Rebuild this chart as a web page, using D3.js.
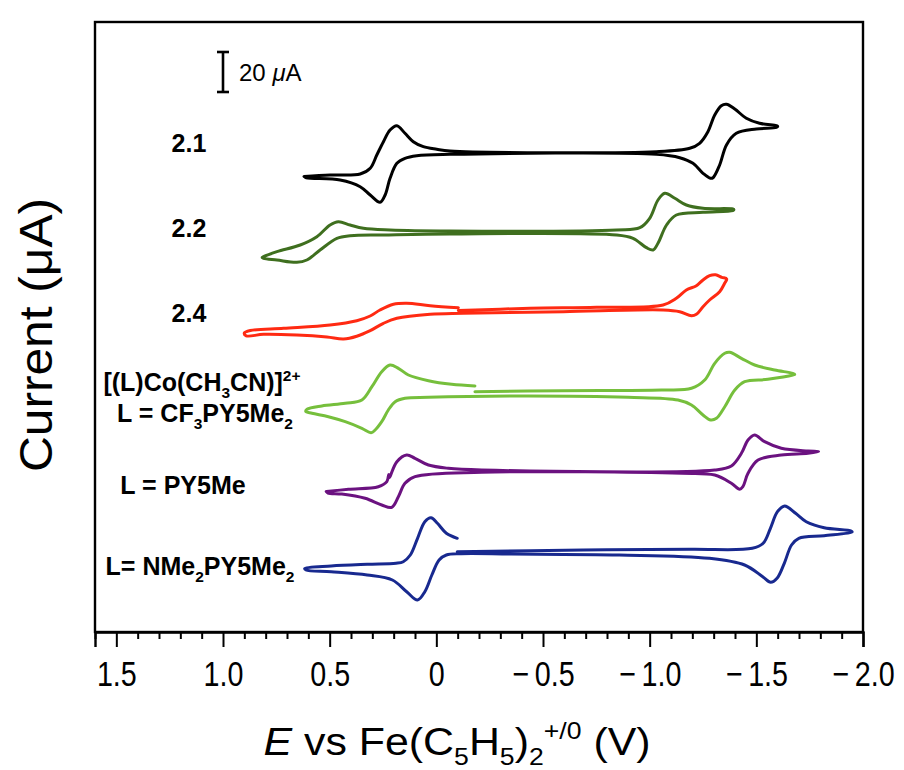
<!DOCTYPE html>
<html>
<head>
<meta charset="utf-8">
<script src="https://cdn.jsdelivr.net/npm/d3@7"></script>
<style>
  body { margin: 0; background: #fff; }
  text { font-family: "Liberation Sans", Arial, Helvetica, sans-serif; }
</style>
</head>
<body>
<div id="chart"></div>
<script>
// x axis ticks (potential, V)
const majorTicks = [1.5, 1.0, 0.5, 0, -0.5, -1.0, -1.5, -2.0];
const majorLabels = ["1.5", "1.0", "0.5", "0", "\u2212\u20090.5", "\u2212\u20091.0", "\u2212\u20091.5", "\u2212\u20092.0"];
const minorTicks = [1.6, 1.4, 1.3, 1.2, 1.1, 0.9, 0.8, 0.7, 0.6, 0.4, 0.3, 0.2, 0.1,
  -0.1, -0.2, -0.3, -0.4, -0.6, -0.7, -0.8, -0.9, -1.1, -1.2, -1.3, -1.4, -1.6, -1.7, -1.8, -1.9];

// vertical offset of each trace (uA) and colours
const seriesNames = ["2.1", "2.2", "2.4", "CF3PY5Me2", "PY5Me", "NMe2PY5Me2"];
const seriesOffsets = [239.75, 199.75, 161, 119.25, 80.25, 39.75];
const seriesColors = ["#000000", "#3f6f1f", "#ff2a12", "#76bf3c", "#6b1280", "#18298f"];

// cyclic voltammograms: [E (V), i (uA)] relative to trace offset
const cv21 = [[0.62, -12], [0.498, -11.25], [0.357, -10.75], [0.31, -7.9], [0.279, -1.25], [0.248, 5.4],
  [0.217, 11.25], [0.185, 13.4], [0.147, 9.6], [0.108, 5.4], [0.061, 2.9], [-0.002, 1.6], [-0.064, 0.75],
  [-1.032, 0.4], [-1.188, 2.1], [-1.234, 4.6], [-1.273, 10.4], [-1.305, 18.75], [-1.336, 23.4], [-1.36, 24.1],
  [-1.399, 21.75], [-1.453, 17.1], [-1.515, 14.6], [-1.594, 13.4], [-1.6, 13.1], [-1.594, 12.5], [-1.5, 11.75],
  [-1.406, 9.6], [-1.36, 3.75], [-1.328, -6.25], [-1.297, -12.6], [-1.285, -12.9], [-1.25, -10.4], [-1.203, -5.4],
  [-1.141, -2.6], [-1.032, -0.9], [-0.064, -0.9], [0.092, -1.6], [0.147, -2.9], [0.185, -5.4], [0.217, -12.9],
  [0.24, -21.25], [0.264, -24.9], [0.31, -21.25], [0.357, -17.1], [0.451, -13.75], [0.61, -12.6], [0.62, -12]];

const cv22 = [[0.816, -12.5], [0.81, -12.1], [0.747, -9.6], [0.638, -6.25], [0.56, -2.1], [0.498, 3.75], [0.459, 5.4],
  [0.404, 3.75], [0.342, 2.1], [0.217, 1.25], [-0.064, 0.75], [-0.845, 1.25], [-0.954, 2.4], [-1.0, 7.1],
  [-1.039, 16.25], [-1.071, 19.6], [-1.118, 17.1], [-1.172, 13.75], [-1.25, 12.1], [-1.39, 11.75], [-1.395, 11.4],
  [-1.39, 11], [-1.25, 10.1], [-1.125, 8.75], [-1.079, 3.75], [-1.039, -5.4], [-1.016, -8.75], [-0.985, -7.6],
  [-0.922, -2.9], [-0.845, -1.25], [-0.064, -0.75], [0.248, -1.25], [0.404, -1.6], [0.466, -2.9], [0.545, -8.75],
  [0.607, -13.75], [0.654, -14.9], [0.747, -13.75], [0.81, -12.9], [0.816, -12.5]];

const cv24 = [[-0.103, -0.25], [-0.439, 0.85], [-0.751, 1.35], [-1.063, 2.5], [-1.125, 5.85], [-1.172, 10],
  [-1.219, 12.15], [-1.25, 15], [-1.281, 17.15], [-1.309, 17.6], [-1.338, 16.35], [-1.361, 15.5], [-1.352, 13.5],
  [-1.328, 9.15], [-1.281, 5], [-1.25, 1.65], [-1.219, -2.15], [-1.196, -2.85], [-1.141, -0.85], [-1.063, 0],
  [-0.595, -0.85], [-0.126, -1.65], [0.029, -2.15], [0.185, -4.15], [0.248, -6.65], [0.31, -10.35], [0.373, -13.15],
  [0.435, -14.5], [0.513, -13.5], [0.654, -12.5], [0.81, -12.15], [0.891, -12.9], [0.9, -11.5], [0.872, -10.25],
  [0.716, -9.15], [0.498, -7.5], [0.373, -5.35], [0.31, -3], [0.264, 0], [0.201, 2.85], [0.139, 3.35],
  [0.029, 2.15], [-0.103, 1.15]];

const cvCF3 = [[-0.181, 0.9], [-0.587, 1.4], [-1.055, 1.75], [-1.196, 2.6], [-1.258, 6.75], [-1.305, 15.1],
  [-1.352, 20.1], [-1.375, 20.6], [-1.43, 17.6], [-1.492, 14.25], [-1.586, 11.75], [-1.671, 10.1], [-1.68, 9.6],
  [-1.671, 9.25], [-1.554, 7.1], [-1.445, 5.9], [-1.399, 1.75], [-1.352, -6.6], [-1.313, -12.4], [-1.286, -13.25],
  [-1.25, -10.75], [-1.196, -5.75], [-1.133, -3.25], [-0.899, -1.9], [-0.431, -1.25], [0.037, -1.9], [0.147, -2.4],
  [0.193, -4.1], [0.225, -8.25], [0.256, -14.1], [0.287, -18.25], [0.306, -19.6], [0.349, -17.4], [0.427, -14.1],
  [0.506, -11.6], [0.583, -9.9], [0.612, -9], [0.606, -7.9], [0.537, -6.25], [0.427, -4.9], [0.349, -3.25],
  [0.302, 3.4], [0.256, 10.9], [0.217, 14.25], [0.178, 12.6], [0.131, 9.25], [0.037, 6.4], [-0.072, 4.6],
  [-0.181, 3.75]];

const cvPY5Me = [[0.516, -10], [0.412, -8.9], [0.272, -7.6], [0.232, -5.1], [0.223, -1.5], [0.219, -3], [0.214, -1.8],
  [0.185, 4.9], [0.139, 8.25], [0.1, 6.6], [0.037, 3.25], [-0.056, 1.6], [-0.213, 0.75], [-1.305, 0.75],
  [-1.383, 2.75], [-1.43, 9.1], [-1.461, 15.75], [-1.492, 18.25], [-1.539, 14.9], [-1.617, 11.6], [-1.742, 10.25],
  [-1.792, 10], [-1.742, 9.1], [-1.617, 8.25], [-1.508, 5.75], [-1.461, -0.9], [-1.437, -7.6], [-1.422, -8.9],
  [-1.383, -5.9], [-1.305, -1.75], [-1.149, -0.9], [-0.213, -0.4], [0.1, -2.6], [0.147, -5.9], [0.178, -12.6],
  [0.209, -17.9], [0.256, -16.75], [0.334, -13.4], [0.443, -11.25], [0.508, -10.75], [0.516, -10]];

const cvNMe2 = [[-0.098, 0.4], [-0.688, 1.25], [-1.194, 1.6], [-1.481, 2.1], [-1.532, 4.6], [-1.566, 12.1],
  [-1.599, 20.4], [-1.633, 23.25], [-1.684, 19.6], [-1.734, 15.4], [-1.818, 12.4], [-1.945, 10.75], [-1.949, 10.25],
  [-1.818, 8.4], [-1.699, 7.1], [-1.665, 3.75], [-1.631, -5.4], [-1.597, -12.9], [-1.567, -14.9], [-1.53, -12.1],
  [-1.445, -6.25], [-1.279, -2.9], [-0.857, -1.25], [-0.351, -0.75], [-0.115, -0.6], [-0.047, -1.25], [-0.013, -3.75],
  [0.021, -11.25], [0.054, -19.6], [0.088, -23.75], [0.139, -19.6], [0.206, -13.75], [0.324, -11.25], [0.493, -9.6],
  [0.611, -8.75], [0.617, -8], [0.493, -6.75], [0.324, -5.9], [0.189, -5.4], [0.155, -4.6], [0.122, -1.25],
  [0.088, 7.1], [0.054, 15.4], [0.025, 17.4], [-0.005, 14.6], [-0.047, 9.6], [-0.098, 7.1]];

const traces = [cv21, cv22, cv24, cvCF3, cvPY5Me, cvNMe2];

// scale bar: 20 uA drawn at E = 1.0 V
const scaleBarE = 1.0;
const scaleBarRange = [270, 290];

const width = 904, height = 770;
const margin = { top: 22, right: 41, bottom: 138, left: 95 };

const svg = d3.select("#chart").append("svg")
  .attr("width", width)
  .attr("height", height);

const x = d3.scaleLinear()
  .domain([1.6, -2.0])
  .range([margin.left, width - margin.right]);

const y = d3.scaleLinear()
  .domain([0, 305])
  .range([height - margin.bottom, margin.top]);

// traces
const line = d3.line()
  .x(d => x(d[0]))
  .curve(d3.curveCatmullRom.alpha(0.5));

traces.forEach((data, i) => {
  svg.append("path")
    .datum(data)
    .attr("fill", "none")
    .attr("stroke", seriesColors[i])
    .attr("stroke-width", 3)
    .attr("stroke-linejoin", "round")
    .attr("stroke-linecap", "round")
    .attr("d", line.y(d => y(seriesOffsets[i] + d[1])));
});

// frame
svg.append("rect")
  .attr("x", margin.left)
  .attr("y", margin.top)
  .attr("width", width - margin.left - margin.right)
  .attr("height", height - margin.top - margin.bottom)
  .attr("fill", "none")
  .attr("stroke", "#000")
  .attr("stroke-width", 2.4);

// bottom axis: minor then major ticks
const axisY = height - margin.bottom;
svg.append("g")
  .attr("transform", `translate(0,${axisY})`)
  .call(d3.axisBottom(x).tickValues(minorTicks).tickSize(7).tickFormat(""))
  .call(g => g.select(".domain").remove())
  .call(g => g.selectAll("line").attr("stroke-width", 2));

svg.append("g")
  .attr("transform", `translate(0,${axisY})`)
  .call(d3.axisBottom(x).tickValues(majorTicks).tickSize(15).tickPadding(14)
    .tickFormat((d, i) => majorLabels[i]))
  .call(g => g.select(".domain").attr("stroke-width", 2.4))
  .call(g => g.selectAll("line").attr("stroke-width", 2))
  .call(g => g.selectAll("text")
    .attr("font-size", 35)
    .attr("fill", "#000")
    .attr("transform", "scale(0.82,1)")
    .style("font-family", "'Liberation Sans', Arial, sans-serif"));

// helper for text with sub/superscripts
function richText(sel, parts, size) {
  let shift = 0;
  parts.forEach(([t, kind]) => {
    const target = kind === "sub" ? size * 0.26 : kind === "sup" ? -size * 0.42 : 0;
    const ts = sel.append("tspan").text(t);
    if (target !== shift) ts.attr("dy", target - shift);
    shift = target;
    if (kind === "sub" || kind === "sup") ts.attr("font-size", size * 0.62);
    if (kind === "i") ts.attr("font-style", "italic");
  });
}

// axis titles
const xTitle = svg.append("text")
  .attr("transform", "translate(457,755) scale(1.1,1)")
  .attr("text-anchor", "middle")
  .attr("font-size", 39);
richText(xTitle, [["E", "i"], [" vs Fe(C", "n"], ["5", "sub"], ["H", "n"], ["5", "sub"], [")", "n"],
  ["2", "sub"], ["+/0", "sup"], [" (V)", "n"]], 39);

svg.append("text")
  .attr("transform", "translate(52,335) rotate(-90) scale(1.08,1)")
  .attr("text-anchor", "middle")
  .attr("font-size", 46)
  .text("Current (\u03bcA)");

// scale bar
const barX = x(scaleBarE);
svg.append("line")
  .attr("x1", barX).attr("x2", barX)
  .attr("y1", y(scaleBarRange[0])).attr("y2", y(scaleBarRange[1]))
  .attr("stroke", "#000").attr("stroke-width", 2.6);
scaleBarRange.forEach(v => {
  svg.append("line")
    .attr("x1", barX - 6).attr("x2", barX + 6)
    .attr("y1", y(v)).attr("y2", y(v))
    .attr("stroke", "#000").attr("stroke-width", 2.6);
});
const barText = svg.append("text")
  .attr("x", barX + 16)
  .attr("y", y(280) + 9)
  .attr("font-size", 24);
richText(barText, [["20 ", "n"], ["\u03bc", "i"], ["A", "n"]], 24);

// trace labels
const labelSize = 25;
const labelStyle = sel => sel.attr("font-size", labelSize).attr("font-weight", "bold").attr("text-anchor", "middle");
const simpleLabels = [["2.1", 189, 152], ["2.2", 189, 237], ["2.4", 189, 322]];
simpleLabels.forEach(([t, lx, ly]) => {
  svg.append("text").attr("x", lx).attr("y", ly).call(labelStyle).text(t);
});

const lab1 = svg.append("text").attr("x", 202).attr("y", 391).call(labelStyle);
richText(lab1, [["[(L)Co(CH", "n"], ["3", "sub"], ["CN)]", "n"], ["2+", "sup"]], labelSize);
const lab2 = svg.append("text").attr("x", 205).attr("y", 422).call(labelStyle);
richText(lab2, [["L = CF", "n"], ["3", "sub"], ["PY5Me", "n"], ["2", "sub"]], labelSize);
svg.append("text").attr("x", 183).attr("y", 494).call(labelStyle).text("L = PY5Me");
const lab3 = svg.append("text").attr("x", 200).attr("y", 575).call(labelStyle);
richText(lab3, [["L= NMe", "n"], ["2", "sub"], ["PY5Me", "n"], ["2", "sub"]], labelSize);
</script>
</body>
</html>
